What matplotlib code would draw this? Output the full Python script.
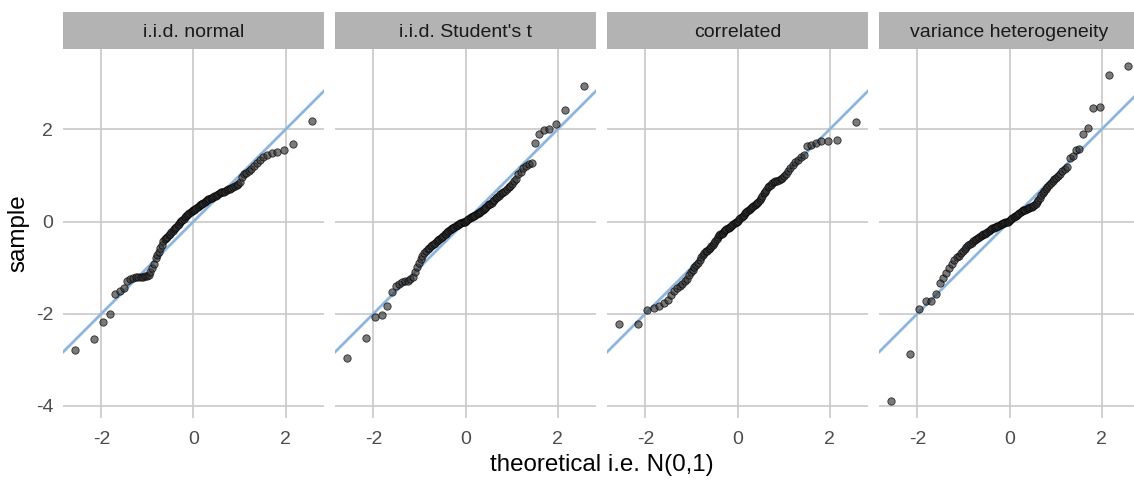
from statistics import NormalDist

import numpy as np
import matplotlib
matplotlib.use("Agg")
import matplotlib.pyplot as plt

plt.rcParams["font.family"] = ["Liberation Sans", "DejaVu Sans"]
plt.rcParams["axes.unicode_minus"] = False

# sorted sample values, one list per facet
panel_titles = ["i.i.d. normal", "i.i.d. Student's t", "correlated", "variance heterogeneity"]

normal = [-2.78, -2.54, -2.17, -2.01, -1.58, -1.50, -1.44, -1.30, -1.24, -1.22,
          -1.21, -1.21, -1.20, -1.20, -1.19, -1.18, -1.17, -1.10, -1.00, -0.92,
          -0.80, -0.72, -0.66, -0.58, -0.50, -0.43, -0.39, -0.36, -0.33, -0.30,
          -0.27, -0.23, -0.20, -0.17, -0.14, -0.11, -0.08, -0.05, -0.02, 0.01,
          0.04, 0.06, 0.09, 0.11, 0.14, 0.16, 0.18, 0.20, 0.22, 0.24,
          0.25, 0.27, 0.29, 0.31, 0.33, 0.35, 0.37, 0.39, 0.41, 0.43,
          0.45, 0.46, 0.48, 0.49, 0.50, 0.51, 0.53, 0.55, 0.56, 0.58,
          0.60, 0.62, 0.63, 0.64, 0.65, 0.66, 0.68, 0.70, 0.71, 0.73,
          0.75, 0.77, 0.80, 0.82, 0.85, 0.97, 1.03, 1.06, 1.10, 1.15,
          1.21, 1.27, 1.33, 1.40, 1.45, 1.49, 1.50, 1.56, 1.68, 2.19]

student = [-2.96, -2.52, -2.07, -2.03, -1.83, -1.52, -1.40, -1.35, -1.32, -1.30,
           -1.28, -1.25, -1.20, -1.10, -0.98, -0.90, -0.81, -0.74, -0.69, -0.64,
           -0.60, -0.57, -0.54, -0.51, -0.48, -0.46, -0.43, -0.41, -0.38, -0.35,
           -0.33, -0.31, -0.28, -0.26, -0.23, -0.20, -0.18, -0.16, -0.15, -0.13,
           -0.11, -0.10, -0.08, -0.07, -0.06, -0.04, -0.03, -0.02, -0.01, 0.00,
           0.02, 0.03, 0.05, 0.07, 0.09, 0.10, 0.12, 0.13, 0.15, 0.16,
           0.18, 0.19, 0.21, 0.23, 0.25, 0.27, 0.30, 0.32, 0.35, 0.37,
           0.39, 0.41, 0.44, 0.47, 0.50, 0.53, 0.56, 0.59, 0.62, 0.64,
           0.67, 0.70, 0.74, 0.78, 0.82, 0.87, 0.93, 1.03, 1.08, 1.16,
           1.20, 1.24, 1.28, 1.70, 1.90, 1.99, 2.01, 2.12, 2.41, 2.95]

correlated = [-2.23, -2.23, -1.93, -1.88, -1.84, -1.77, -1.70, -1.60, -1.50, -1.45,
              -1.40, -1.35, -1.30, -1.25, -1.17, -1.10, -1.05, -0.99, -0.94, -0.90,
              -0.83, -0.77, -0.72, -0.68, -0.65, -0.63, -0.60, -0.57, -0.54, -0.51,
              -0.46, -0.42, -0.37, -0.33, -0.30, -0.28, -0.26, -0.24, -0.21, -0.19,
              -0.17, -0.15, -0.13, -0.11, -0.09, -0.08, -0.06, -0.04, -0.02, 0.00,
              0.02, 0.05, 0.07, 0.10, 0.13, 0.15, 0.18, 0.21, 0.23, 0.25,
              0.27, 0.29, 0.31, 0.33, 0.35, 0.37, 0.40, 0.43, 0.46, 0.50,
              0.55, 0.61, 0.65, 0.69, 0.74, 0.77, 0.80, 0.83, 0.85, 0.87,
              0.89, 0.91, 0.93, 0.95, 0.98, 1.04, 1.10, 1.17, 1.23, 1.29,
              1.34, 1.40, 1.45, 1.63, 1.67, 1.70, 1.74, 1.75, 1.77, 2.17]

varhet = [-3.90, -2.87, -1.89, -1.73, -1.72, -1.57, -1.33, -1.23, -1.12, -1.00,
          -0.93, -0.83, -0.77, -0.74, -0.68, -0.64, -0.60, -0.56, -0.52, -0.49,
          -0.46, -0.43, -0.40, -0.38, -0.36, -0.34, -0.32, -0.30, -0.28, -0.26,
          -0.24, -0.22, -0.20, -0.18, -0.17, -0.15, -0.14, -0.12, -0.11, -0.10,
          -0.09, -0.07, -0.06, -0.05, -0.04, -0.03, -0.02, -0.01, 0.00, 0.01,
          0.03, 0.05, 0.07, 0.09, 0.11, 0.13, 0.15, 0.17, 0.19, 0.21,
          0.23, 0.24, 0.25, 0.26, 0.28, 0.29, 0.30, 0.31, 0.32, 0.33,
          0.35, 0.38, 0.43, 0.47, 0.52, 0.57, 0.62, 0.66, 0.70, 0.75,
          0.79, 0.83, 0.89, 0.92, 0.95, 0.99, 1.03, 1.09, 1.13, 1.18,
          1.38, 1.42, 1.55, 1.57, 1.91, 2.04, 2.47, 2.48, 3.18, 3.38]

samples = [normal, student, correlated, varhet]
x_ticks = [-2, 0, 2]
y_ticks = [-4, -2, 0, 2]

# theoretical N(0,1) quantiles, same as stat_qq / ppoints
n = len(normal)
theo = np.array([NormalDist().inv_cdf((i - 0.5) / n) for i in range(1, n + 1)])

W, H = 1134, 480
fig = plt.figure(figsize=(W / 100, H / 100), dpi=100)

def expand(lo, hi, f=0.05):
    d = (hi - lo) * f
    return lo - d, hi + d

xlim = expand(theo.min(), theo.max())
allv = np.concatenate([np.array(s) for s in samples])
ylim = expand(allv.min(), allv.max())

grid_col = "#C8C8C8"
line_col = "#8DB5DE"
lefts = [63, 335, 607, 879]
pw = 261
top, bottom = 49, 418
strip_h = 37

for k, (title, vals) in enumerate(zip(panel_titles, samples)):
    ax = fig.add_axes([lefts[k] / W, 1 - bottom / H, pw / W, (bottom - top) / H])
    ax.set_xlim(xlim)
    ax.set_ylim(ylim)
    ax.set_xticks(x_ticks)
    ax.set_yticks(y_ticks)
    ax.grid(True, color=grid_col, linewidth=1.2)
    ax.set_axisbelow(True)
    for s in ax.spines.values():
        s.set_visible(False)
    ax.tick_params(length=0, labelsize=14, labelcolor="#4D4D4D")
    ax.tick_params(axis="x", pad=9)
    ax.tick_params(axis="y", pad=7)
    if k > 0:
        ax.set_yticklabels([])
    ax.axline((0, 0), slope=1, color=line_col, linewidth=2.0, zorder=2)
    ax.scatter(theo, vals, s=28, facecolor=(0.2, 0.2, 0.2, 0.65),
               edgecolor=(0, 0, 0, 0.75), linewidth=0.6, zorder=3)

    sax = fig.add_axes([lefts[k] / W, 1 - top / H, pw / W, strip_h / H])
    sax.set_facecolor("#B3B3B3")
    sax.set_xticks([])
    sax.set_yticks([])
    for s in sax.spines.values():
        s.set_visible(False)
    sax.text(0.5, 0.45, title, ha="center", va="center", fontsize=14, color="#1A1A1A",
             transform=sax.transAxes)

fig.text(602 / W, 1 - 465 / H, "theoretical i.e. N(0,1)", ha="center", va="center",
         fontsize=17.4, color="black")
fig.text(18 / W, 1 - 233 / H, "sample", ha="center", va="center", rotation=90,
         fontsize=17.4, color="black")

fig.savefig("out.png", dpi=100, facecolor="white")
